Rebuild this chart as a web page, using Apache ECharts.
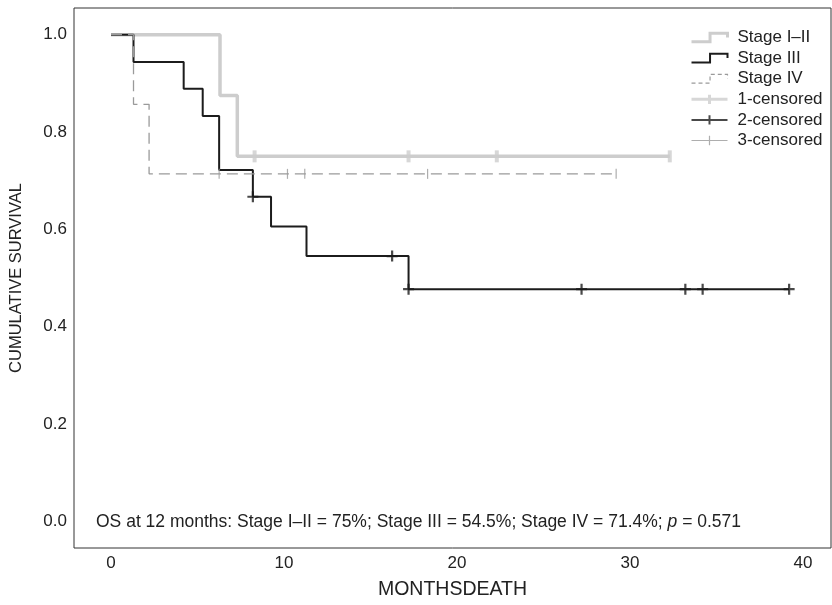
<!DOCTYPE html>
<html>
<head>
<meta charset="utf-8">
<script src="https://cdn.jsdelivr.net/npm/echarts@6/dist/echarts.min.js"></script>
<style>html,body{margin:0;padding:0;background:#fff;}#c{width:832px;height:605px;}</style>
</head>
<body>
<div id="c"></div>
<script>
// Kaplan-Meier step data (months, cumulative survival)
const stage12Times = [0, 6.3, 7.3, 32.3];
const stage12Surv  = [1.0, 0.875, 0.75, 0.75];
const stage3Times  = [0, 1.3, 4.2, 5.3, 6.25, 8.2, 9.25, 11.3, 17.2, 39.2];
const stage3Surv   = [1.0, 0.944, 0.889, 0.833, 0.722, 0.667, 0.606, 0.545, 0.477, 0.477];
const stage4Times  = [0, 1.3, 2.2, 29.2];
const stage4Surv   = [1.0, 0.857, 0.714, 0.714];
// censored observations
const cens1Times = [8.3, 17.2, 22.3, 32.3];
const cens1Surv  = [0.75, 0.75, 0.75, 0.75];
const cens2Times = [8.2, 16.25, 17.2, 27.2, 33.2, 34.2, 39.2];
const cens2Surv  = [0.667, 0.545, 0.477, 0.477, 0.477, 0.477, 0.477];
const cens3Times = [6.25, 10.2, 11.2, 18.3, 29.2];
const cens3Surv  = [0.714, 0.714, 0.714, 0.714, 0.714];
// axis ticks
const xTicks = [0, 10, 20, 30, 40];
const yTicks = [0.0, 0.2, 0.4, 0.6, 0.8, 1.0];

const zip = (a, b) => a.map((v, i) => [v, b[i]]);
const FONT = 'Liberation Sans';
const cLight = '#cdcdcd', cDark = '#1c1c1c', cDash = '#9a9a9a';
const plusPath = 'path://M0,4 L4,4 L4,0 L6,0 L6,4 L10,4 L10,6 L6,6 L6,10 L4,10 L4,6 L0,6 Z';
const stepIcon = 'path://M0,9 L17,9 L17,1 L33,1 L33,5';
const censIcon = 'path://M0,5 L35,5 M17.5,0.5 L17.5,9.5';

const chart = echarts.init(document.getElementById('c'), null, {renderer: 'canvas'});
chart.setOption({
  animation: false,
  backgroundColor: '#fff',
  textStyle: {fontFamily: FONT},
  grid: {left: 74, right: 1, top: 8, bottom: 51, show: true, borderColor: '#333', borderWidth: 1, backgroundColor: 'transparent'},
  xAxis: {
    type: 'value', min: -2.14, max: 41.62,
    axisLine: {show: false}, axisTick: {show: false}, splitLine: {show: false},
    axisLabel: {customValues: xTicks, fontSize: 17, color: '#222', fontFamily: FONT, margin: 7},
    name: 'MONTHSDEATH', nameLocation: 'middle', nameGap: 32,
    nameTextStyle: {fontSize: 19.5, color: '#222', fontFamily: FONT}
  },
  yAxis: {
    type: 'value', min: -0.0549, max: 1.0549,
    axisLine: {show: false}, axisTick: {show: false}, splitLine: {show: false},
    axisLabel: {customValues: yTicks, fontSize: 17, color: '#222', fontFamily: FONT, margin: 7,
      formatter: v => v.toFixed(1)},
    name: 'CUMULATIVE SURVIVAL', nameLocation: 'middle', nameGap: 49,
    nameTextStyle: {fontSize: 16.5, color: '#222', fontFamily: FONT}
  },
  title: {
    left: 96, top: 513, padding: 0,
    text: '{a|OS at 12 months: Stage I–II = 75%; Stage III = 54.5%; Stage IV = 71.4%; }{i|p}{a| = 0.571}',
    textStyle: {fontWeight: 'normal', rich: {
      a: {fontSize: 17.5, color: '#222', fontFamily: FONT, fontWeight: 'normal'},
      i: {fontSize: 17.5, color: '#222', fontFamily: FONT, fontWeight: 'normal', fontStyle: 'italic'}
    }}
  },
  legend: {
    orient: 'vertical', left: 690, top: 29, padding: 0,
    itemWidth: 36, itemHeight: 10, itemGap: 3.6,
    textStyle: {fontSize: 17, color: '#222', fontFamily: FONT, padding: [0, 0, 0, 5]},
    data: [
      {name: 'Stage I–II', icon: stepIcon, itemStyle: {color: 'rgba(0,0,0,0)', borderColor: cLight, borderWidth: 3}},
      {name: 'Stage III', icon: stepIcon, itemStyle: {color: 'rgba(0,0,0,0)', borderColor: cDark, borderWidth: 2}},
      {name: 'Stage IV', icon: stepIcon, itemStyle: {color: 'rgba(0,0,0,0)', borderColor: cDash, borderWidth: 1.2, borderType: [4, 3]}},
      {name: '1-censored', icon: censIcon, itemStyle: {color: 'rgba(0,0,0,0)', borderColor: cLight, borderWidth: 3}},
      {name: '2-censored', icon: censIcon, itemStyle: {color: 'rgba(0,0,0,0)', borderColor: cDark, borderWidth: 2}},
      {name: '3-censored', icon: censIcon, itemStyle: {color: 'rgba(0,0,0,0)', borderColor: cDash, borderWidth: 1.2}}
    ]
  },
  series: [
    {name: 'Stage I–II', type: 'line', step: 'end', showSymbol: false, symbol: 'none',
      data: zip(stage12Times, stage12Surv), color: cLight,
      lineStyle: {color: cLight, width: 3.5}, z: 2},
    {name: 'Stage III', type: 'line', step: 'end', showSymbol: false, symbol: 'none',
      data: zip(stage3Times, stage3Surv), color: cDark,
      lineStyle: {color: cDark, width: 2}, z: 3},
    {name: 'Stage IV', type: 'line', step: 'end', showSymbol: false, symbol: 'none',
      data: zip(stage4Times, stage4Surv), color: cDash,
      lineStyle: {color: cDash, width: 1.3, type: [11, 6]}, z: 4},
    {name: '1-censored', type: 'scatter', data: zip(cens1Times, cens1Surv),
      symbol: 'rect', symbolSize: [4, 12], itemStyle: {color: cLight}, z: 2},
    {name: '2-censored', type: 'scatter', data: zip(cens2Times, cens2Surv),
      symbol: plusPath, symbolSize: [11, 11], itemStyle: {color: cDark}, z: 3},
    {name: '3-censored', type: 'scatter', data: zip(cens3Times, cens3Surv),
      symbol: 'rect', symbolSize: [1.2, 10], itemStyle: {color: cDash}, z: 4}
  ]
});
</script>
</body>
</html>
